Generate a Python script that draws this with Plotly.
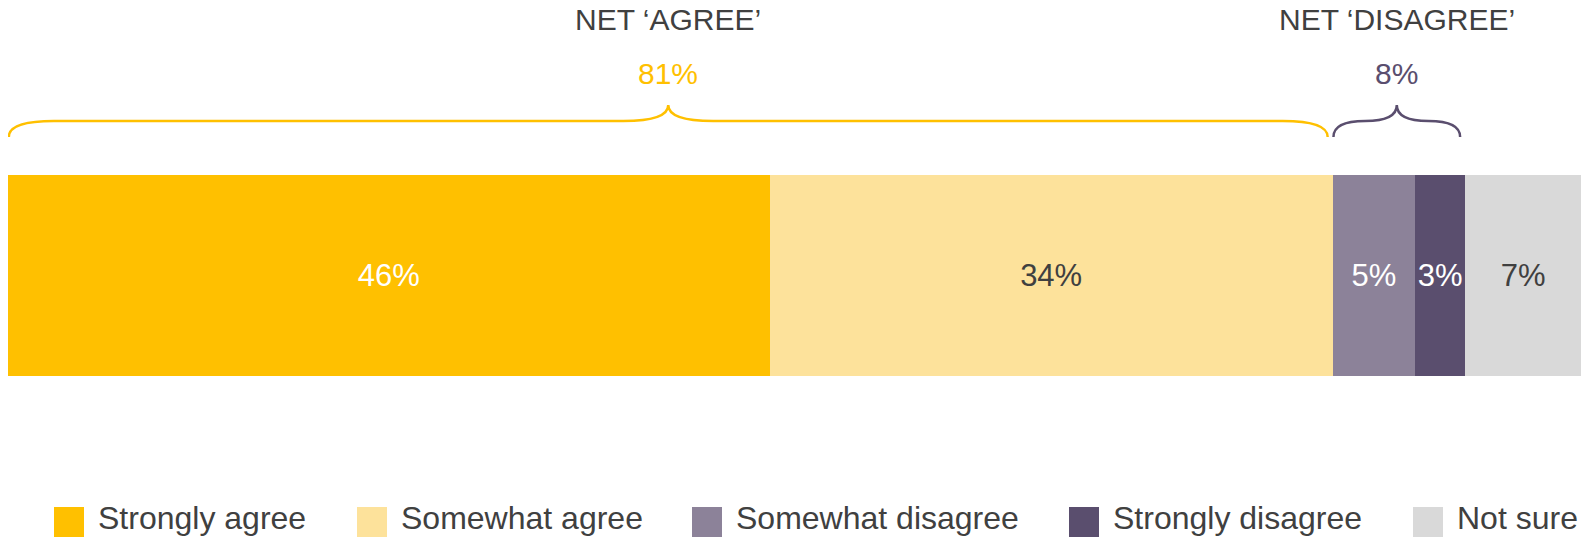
import plotly.graph_objects as go

# Survey response shares (percent), left to right along the bar
categories = ["Strongly agree", "Somewhat agree", "Somewhat disagree", "Strongly disagree", "Not sure"]
values = [46, 34, 5, 3, 7]
bar_colors = ["#FFC000", "#FDE29B", "#8C8299", "#5A4E6E", "#D9D9D9"]
label_colors = ["#FFFFFF", "#404040", "#FFFFFF", "#FFFFFF", "#404040"]

# Net groupings shown with braces above the bar
net_titles = ["NET \u2018AGREE\u2019", "NET \u2018DISAGREE\u2019"]
net_values = [81, 8]
net_colors = ["#FFC000", "#5A4E6E"]
net_members = [[0, 1], [2, 3]]

W, H = 1581, 537
FONT = "Liberation Sans, Arial, Helvetica, sans-serif"
TEXT_GREY = "#404040"

total = sum(values)
left_margin = 8
plot_w = W - left_margin
px_per_unit = plot_w / total

# Bar occupies pixel rows 175..376; y axis is numeric with the bar centred at 0
bar_top, bar_bot = 175, 376
unit = bar_bot - bar_top
y_range = [-0.5 - (H - bar_bot) / unit, 0.5 + bar_top / unit]


def paper_y(px):
    return 1 - px / H


def paper_x(px):
    return (px - left_margin) / plot_w


fig = go.Figure()
for name, v, c, tc in zip(categories, values, bar_colors, label_colors):
    fig.add_trace(go.Bar(
        x=[v], y=[0], orientation="h", name=name, width=1,
        marker=dict(color=c, line=dict(width=0)),
        text=[f"{v}%"], textposition="inside", insidetextanchor="middle",
        constraintext="none", textangle=0,
        textfont=dict(family=FONT, size=31, color=tc),
        showlegend=False, hoverinfo="skip",
    ))

# Cumulative segment edges in data units
edges = [0]
for v in values:
    edges.append(edges[-1] + v)


def brace_path(x0, x1, y_end, y_mid, y_peak, r):
    xc = (x0 + x1) / 2
    return (f"M {x0},{y_end} Q {x0},{y_mid} {x0 + r},{y_mid} "
            f"L {xc - r},{y_mid} Q {xc},{y_mid} {xc},{y_peak} "
            f"Q {xc},{y_mid} {xc + r},{y_mid} "
            f"L {x1 - r},{y_mid} Q {x1},{y_mid} {x1},{y_end}")


shapes = []
annotations = []
y_end, y_mid, y_peak = paper_y(137), paper_y(121), paper_y(105)
for title, nv, col, members in zip(net_titles, net_values, net_colors, net_members):
    x0 = edges[members[0]] + 0.05
    x1 = edges[members[-1] + 1] - 0.3
    r = min(45 / px_per_unit, (x1 - x0) / 4)
    shapes.append(dict(
        type="path", xref="x", yref="paper",
        path=brace_path(x0, x1, y_end, y_mid, y_peak, r),
        line=dict(color=col, width=2.5),
    ))
    xc = (x0 + x1) / 2
    annotations.append(dict(
        x=xc, y=paper_y(20), xref="x", yref="paper", text=title, showarrow=False,
        xanchor="center", yanchor="middle",
        font=dict(family=FONT, size=30, color=TEXT_GREY),
    ))
    annotations.append(dict(
        x=xc, y=paper_y(73), xref="x", yref="paper", text=f"{nv}%", showarrow=False,
        xanchor="center", yanchor="middle",
        font=dict(family=FONT, size=30, color=col),
    ))

# Legend row along the bottom: coloured squares with labels
legend_left_px = [54, 357, 692, 1069, 1413]
sq = 30
sq_top, sq_bot = 507, 537
for name, c, lx in zip(categories, bar_colors, legend_left_px):
    shapes.append(dict(
        type="rect", xref="paper", yref="paper",
        x0=paper_x(lx), x1=paper_x(lx + sq), y0=paper_y(sq_bot), y1=paper_y(sq_top),
        fillcolor=c, line=dict(width=0),
    ))
    annotations.append(dict(
        x=paper_x(lx + sq + 12), y=paper_y(518), xref="paper", yref="paper",
        text=name, showarrow=False, xanchor="left", yanchor="middle",
        font=dict(family=FONT, size=32, color=TEXT_GREY),
    ))

fig.update_layout(
    width=W, height=H,
    margin=dict(l=left_margin, r=0, t=0, b=0),
    barmode="stack",
    plot_bgcolor="white", paper_bgcolor="white",
    xaxis=dict(range=[0, total], visible=False, fixedrange=True),
    yaxis=dict(range=y_range, visible=False, fixedrange=True),
    shapes=shapes, annotations=annotations,
    showlegend=False,
)

fig.write_html("out.html", config={"displayModeBar": False})
